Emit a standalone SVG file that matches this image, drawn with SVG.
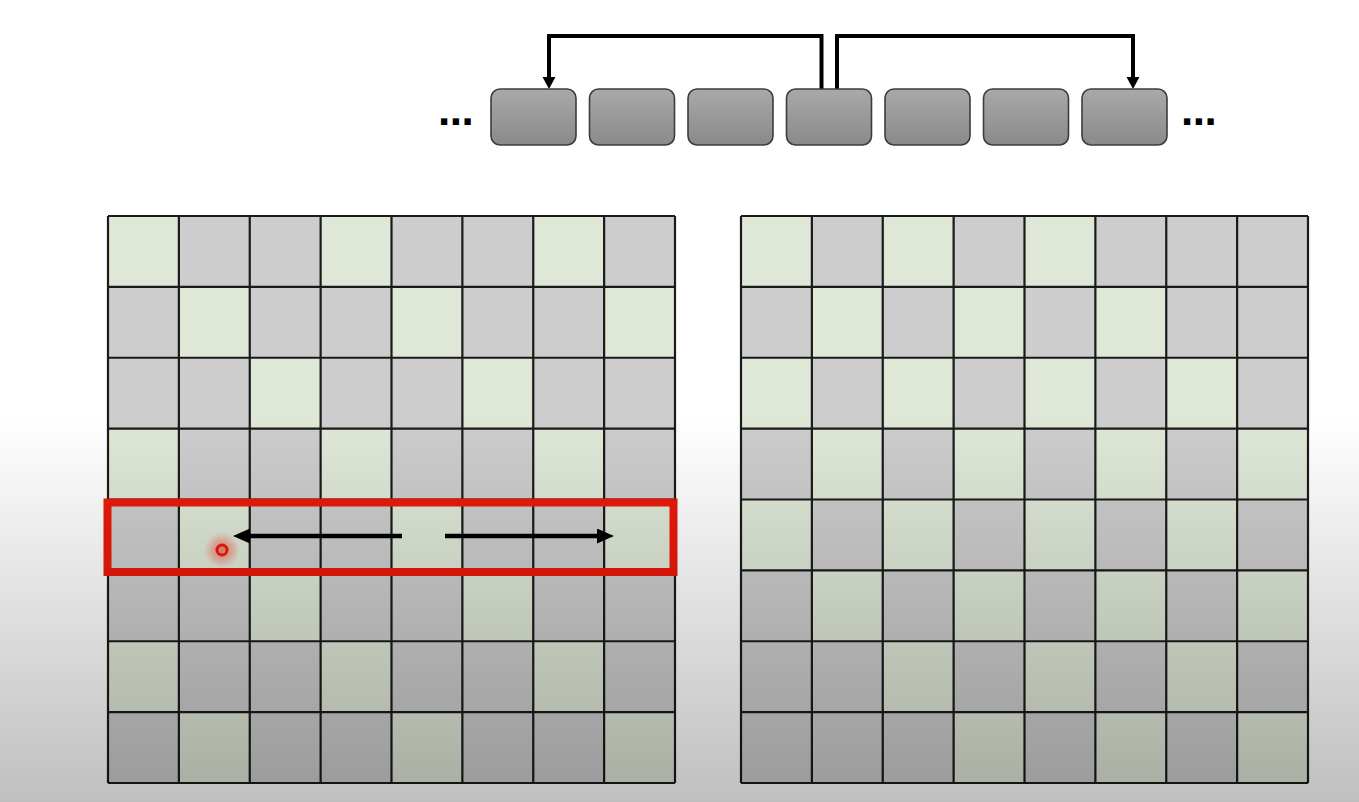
<svg xmlns="http://www.w3.org/2000/svg" width="1359" height="802" viewBox="0 0 1359 802">
<defs>
<style>
.box{fill:url(#boxg);stroke:#3c3c3c;stroke-width:1.6}
.gc{fill:#dfe8d7}
.bg{fill:#cdcdcd}
.gl{fill:none;stroke:#1a1a1a;stroke-width:2.2}
.con{fill:none;stroke:#000;stroke-width:4}
.arr{fill:none;stroke:#000;stroke-width:4.5}
.dots{font-family:"Liberation Sans",Arial,sans-serif;font-weight:bold;font-size:44px;fill:#000;letter-spacing:-0.5px}
</style>
<linearGradient id="boxg" x1="0" y1="0" x2="0" y2="1">
<stop offset="0" stop-color="#a9a9a9"/>
<stop offset="1" stop-color="#8a8a8a"/>
</linearGradient>
<linearGradient id="shade" x1="0" y1="0" x2="0" y2="802" gradientUnits="userSpaceOnUse">
<stop offset="0.52" stop-color="#000" stop-opacity="0"/>
<stop offset="1" stop-color="#000" stop-opacity="0.25"/>
</linearGradient>
<radialGradient id="glow">
<stop offset="0" stop-color="#ff3020" stop-opacity="0.6"/>
<stop offset="1" stop-color="#ff3020" stop-opacity="0"/>
</radialGradient>
<marker id="ah" markerUnits="userSpaceOnUse" markerWidth="16" markerHeight="16" refX="7" refY="6.5" orient="auto">
<path d="M0,0 L12,6.5 L0,13 z" fill="#000"/>
</marker>
<marker id="ah2" markerUnits="userSpaceOnUse" markerWidth="20" markerHeight="18" refX="8" refY="7.5" orient="auto">
<path d="M0,0 L17,7.5 L0,15 z" fill="#000"/>
</marker>
<g id="lines">
<path class="gl" d="M0 0V567M70.875 0V567M141.75 0V567M212.625 0V567M283.5 0V567M354.375 0V567M425.25 0V567M496.125 0V567M567 0V567M0 0H567M0 70.875H567M0 141.75H567M0 212.625H567M0 283.5H567M0 354.375H567M0 425.25H567M0 496.125H567M0 567H567"/>
</g>
</defs>
<rect width="1359" height="802" fill="#fff"/>

<g id="connectors">
<path class="con" d="M821.5 89V36H549V84" marker-end="url(#ah)"/>
<path class="con" d="M837 89V36H1133V84" marker-end="url(#ah)"/>
</g>

<g id="array">
<text class="dots" x="438" y="125">...</text>
<g id="box1"><rect class="box" x="491" y="89" width="85" height="56" rx="9"/></g>
<g id="box2"><rect class="box" x="589.5" y="89" width="85" height="56" rx="9"/></g>
<g id="box3"><rect class="box" x="688" y="89" width="85" height="56" rx="9"/></g>
<g id="box4"><rect class="box" x="786.5" y="89" width="85" height="56" rx="9"/></g>
<g id="box5"><rect class="box" x="885" y="89" width="85" height="56" rx="9"/></g>
<g id="box6"><rect class="box" x="983.5" y="89" width="85" height="56" rx="9"/></g>
<g id="box7"><rect class="box" x="1082" y="89" width="85" height="56" rx="9"/></g>
<text class="dots" x="1181" y="125">...</text>
</g>

<g id="grid-left" transform="translate(108,216)">
<rect class="bg" width="567" height="567"/>
<rect class="gc" x="0" y="0" width="70.875" height="70.875"/>
<rect class="gc" x="212.625" y="0" width="70.875" height="70.875"/>
<rect class="gc" x="425.25" y="0" width="70.875" height="70.875"/>
<rect class="gc" x="70.875" y="70.875" width="70.875" height="70.875"/>
<rect class="gc" x="283.5" y="70.875" width="70.875" height="70.875"/>
<rect class="gc" x="496.125" y="70.875" width="70.875" height="70.875"/>
<rect class="gc" x="141.75" y="141.75" width="70.875" height="70.875"/>
<rect class="gc" x="354.375" y="141.75" width="70.875" height="70.875"/>
<rect class="gc" x="0" y="212.625" width="70.875" height="70.875"/>
<rect class="gc" x="212.625" y="212.625" width="70.875" height="70.875"/>
<rect class="gc" x="425.25" y="212.625" width="70.875" height="70.875"/>
<rect class="gc" x="70.875" y="283.5" width="70.875" height="70.875"/>
<rect class="gc" x="283.5" y="283.5" width="70.875" height="70.875"/>
<rect class="gc" x="496.125" y="283.5" width="70.875" height="70.875"/>
<rect class="gc" x="141.75" y="354.375" width="70.875" height="70.875"/>
<rect class="gc" x="354.375" y="354.375" width="70.875" height="70.875"/>
<rect class="gc" x="0" y="425.25" width="70.875" height="70.875"/>
<rect class="gc" x="212.625" y="425.25" width="70.875" height="70.875"/>
<rect class="gc" x="425.25" y="425.25" width="70.875" height="70.875"/>
<rect class="gc" x="70.875" y="496.125" width="70.875" height="70.875"/>
<rect class="gc" x="283.5" y="496.125" width="70.875" height="70.875"/>
<rect class="gc" x="496.125" y="496.125" width="70.875" height="70.875"/>
<use href="#lines"/>
</g>

<g id="grid-right" transform="translate(741,216)">
<rect class="bg" width="567" height="567"/>
<rect class="gc" x="0" y="0" width="70.875" height="70.875"/>
<rect class="gc" x="141.75" y="0" width="70.875" height="70.875"/>
<rect class="gc" x="283.5" y="0" width="70.875" height="70.875"/>
<rect class="gc" x="70.875" y="70.875" width="70.875" height="70.875"/>
<rect class="gc" x="212.625" y="70.875" width="70.875" height="70.875"/>
<rect class="gc" x="354.375" y="70.875" width="70.875" height="70.875"/>
<rect class="gc" x="0" y="141.75" width="70.875" height="70.875"/>
<rect class="gc" x="141.75" y="141.75" width="70.875" height="70.875"/>
<rect class="gc" x="283.5" y="141.75" width="70.875" height="70.875"/>
<rect class="gc" x="425.25" y="141.75" width="70.875" height="70.875"/>
<rect class="gc" x="70.875" y="212.625" width="70.875" height="70.875"/>
<rect class="gc" x="212.625" y="212.625" width="70.875" height="70.875"/>
<rect class="gc" x="354.375" y="212.625" width="70.875" height="70.875"/>
<rect class="gc" x="496.125" y="212.625" width="70.875" height="70.875"/>
<rect class="gc" x="0" y="283.5" width="70.875" height="70.875"/>
<rect class="gc" x="141.75" y="283.5" width="70.875" height="70.875"/>
<rect class="gc" x="283.5" y="283.5" width="70.875" height="70.875"/>
<rect class="gc" x="425.25" y="283.5" width="70.875" height="70.875"/>
<rect class="gc" x="70.875" y="354.375" width="70.875" height="70.875"/>
<rect class="gc" x="212.625" y="354.375" width="70.875" height="70.875"/>
<rect class="gc" x="354.375" y="354.375" width="70.875" height="70.875"/>
<rect class="gc" x="496.125" y="354.375" width="70.875" height="70.875"/>
<rect class="gc" x="141.75" y="425.25" width="70.875" height="70.875"/>
<rect class="gc" x="283.5" y="425.25" width="70.875" height="70.875"/>
<rect class="gc" x="425.25" y="425.25" width="70.875" height="70.875"/>
<rect class="gc" x="212.625" y="496.125" width="70.875" height="70.875"/>
<rect class="gc" x="354.375" y="496.125" width="70.875" height="70.875"/>
<rect class="gc" x="496.125" y="496.125" width="70.875" height="70.875"/>
<use href="#lines"/>
</g>

<g id="highlight">
<rect x="107.5" y="502.5" width="566" height="69.5" fill="none" stroke="#ea1a0a" stroke-width="8"/>
<circle cx="222" cy="550" r="18" fill="url(#glow)"/>
<circle cx="222" cy="550" r="5" fill="none" stroke="#ea1a0a" stroke-width="3"/>
<path class="arr" d="M402 536H242" marker-end="url(#ah2)"/>
<path class="arr" d="M445 536H605" marker-end="url(#ah2)"/>
</g>

<rect width="1359" height="802" fill="url(#shade)" pointer-events="none"/>
</svg>
